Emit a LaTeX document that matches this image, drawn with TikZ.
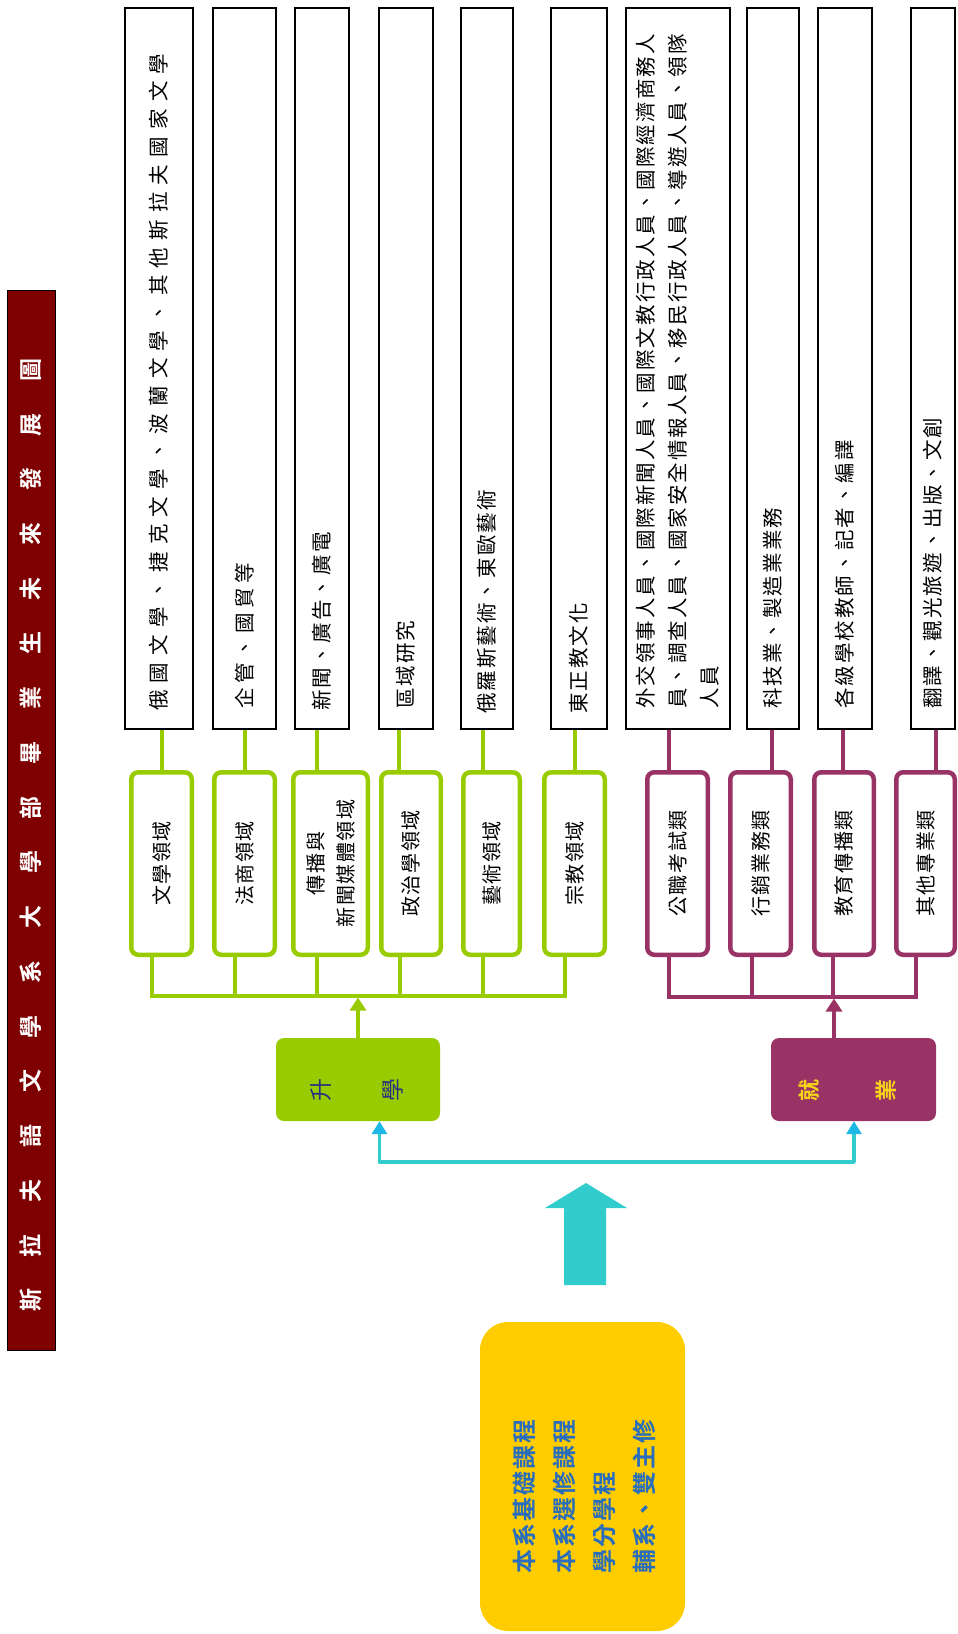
\documentclass[tikz,border=0pt]{standalone}
\usepackage{fontspec}
\usetikzlibrary{arrows.meta}
\newfontfamily\cjk{Noto Sans CJK TC}
\newfontfamily\cjkb{Noto Sans CJK TC Bold}
\definecolor{grn}{HTML}{99CC00}
\definecolor{mag}{HTML}{993366}
\definecolor{maroonbar}{HTML}{7F0000}
\definecolor{ylw}{HTML}{FFCC00}
\definecolor{tq}{HTML}{33CCCC}
\definecolor{sky}{HTML}{1EB8E6}
\definecolor{navytxt}{HTML}{2B2F7F}
\definecolor{bluetxt}{HTML}{2A6EBB}
\definecolor{jyy}{HTML}{F7D417}
\tikzset{
  wbox/.style={draw=black, line width=2pt, fill=white, inner sep=0pt, minimum height=721pt},
  gbox/.style={draw=grn, line width=4.5pt, rounded corners=7pt, fill=white, inner sep=0pt, minimum height=182.5pt},
  mbox/.style={gbox, draw=mag},
  wtext/.style={rotate=90, anchor=west, inner sep=0pt, align=left, font=\cjk\fontsize{20.5}{32}\selectfont\addfontfeature{LetterSpace=10}},
  ctext/.style={rotate=90, inner sep=0pt, align=center, font=\cjk\fontsize{20}{30}\selectfont\addfontfeature{LetterSpace=8}},
  gline/.style={draw=grn, line width=3.5pt, line join=miter},
  mline/.style={draw=mag, line width=3.5pt, line join=miter},
  cline/.style={draw=tq, line width=3.5pt, line join=round},
  gtip/.style={-{Triangle[width=16pt, length=13pt]}},
  ctip/.style={{Triangle[width=15pt, length=13pt, color=sky]}-{Triangle[width=15pt, length=13pt, color=sky]}}
}
\begin{document}
\begin{tikzpicture}[x=1pt,y=-1pt]
\useasboundingbox (0,0) rectangle (958,1634);
% title bar
\node[draw=black, line width=1pt, fill=maroonbar, minimum width=48pt, minimum height=1060pt, inner sep=0pt] (title) at (31,820) {};
\node[rotate=90, anchor=west, inner sep=0pt, text=white, font=\cjkb\fontsize{23}{23}\selectfont\addfontfeature{LetterSpace=138}] (titletext) at (31,1312) {斯拉夫語文學系大學部畢業生未來發展圖};

% white boxes
\node[wbox, minimum width=68pt] (w1) at (159,368.5) {};
\node[wbox, minimum width=63pt] (w2) at (244.5,368.5) {};
\node[wbox, minimum width=54pt] (w3) at (322,368.5) {};
\node[wbox, minimum width=54pt] (w4) at (406,368.5) {};
\node[wbox, minimum width=52pt] (w5) at (487,368.5) {};
\node[wbox, minimum width=56pt] (w6) at (579,368.5) {};
\node[wbox, minimum width=104pt] (w7) at (678,368.5) {};
\node[wbox, minimum width=52pt] (w8) at (773,368.5) {};
\node[wbox, minimum width=54pt] (w9) at (845,368.5) {};
\node[wbox, minimum width=44pt] (w10) at (933,368.5) {};

\node[wtext, font=\cjk\fontsize{20.5}{32}\selectfont\addfontfeature{LetterSpace=35}] (t1) at ([yshift=19pt]w1.south) {俄國文學、捷克文學、波蘭文學、其他斯拉夫國家文學};
\node[wtext, font=\cjk\fontsize{20.5}{32}\selectfont\addfontfeature{LetterSpace=22}] (t2) at ([yshift=21pt]w2.south) {企管、國貿等};
\node[wtext] (t3) at ([yshift=19pt]w3.south) {新聞、廣告、廣電};
\node[wtext] (t4) at ([yshift=21pt]w4.south) {區域研究};
\node[wtext] (t5) at ([yshift=16pt]w5.south) {俄羅斯藝術、東歐藝術};
\node[wtext] (t6) at ([yshift=16pt]w6.south) {東正教文化};
\node[wtext] (t7) at ([yshift=21pt]w7.south) {外交領事人員、國際新聞人員、國際文教行政人員、國際經濟商務人\\員、調查人員、國家安全情報人員、移民行政人員、導遊人員、領隊\\人員};
\node[wtext] (t8) at ([yshift=21pt]w8.south) {科技業、製造業業務};
\node[wtext] (t9) at ([yshift=21pt]w9.south) {各級學校教師、記者、編譯};
\node[wtext] (t10) at ([yshift=21pt]w10.south) {翻譯、觀光旅遊、出版、文創};

% green boxes
\node[gbox, minimum width=60.5pt] (g1) at (161.5,863.5) {};
\node[gbox, minimum width=60.5pt] (g2) at (244.5,863.5) {};
\node[gbox, minimum width=74.5pt] (g3) at (330.5,863.5) {};
\node[gbox, minimum width=59.5pt] (g4) at (411,863.5) {};
\node[gbox, minimum width=56.5pt] (g5) at (491.5,863.5) {};
\node[gbox, minimum width=60.5pt] (g6) at (574.5,863.5) {};
\node[ctext] (gt1) at (g1) {文學領域};
\node[ctext] (gt2) at (g2) {法商領域};
\node[ctext] (gt3) at (g3) {傳播與\\新聞媒體領域};
\node[ctext] (gt4) at (g4) {政治學領域};
\node[ctext] (gt5) at (g5) {藝術領域};
\node[ctext] (gt6) at (g6) {宗教領域};

% magenta boxes
\node[mbox, minimum width=60.5pt] (m1) at (677.5,863.5) {};
\node[mbox, minimum width=60.5pt] (m2) at (760.5,863.5) {};
\node[mbox, minimum width=59.5pt] (m3) at (844,863.5) {};
\node[mbox, minimum width=58.5pt] (m4) at (925.5,863.5) {};
\node[ctext] (mt1) at (m1) {公職考試類};
\node[ctext] (mt2) at (m2) {行銷業務類};
\node[ctext] (mt3) at (m3) {教育傳播類};
\node[ctext] (mt4) at (m4) {其他專業類};

% top connectors
\draw[gline] ([xshift=3pt]w1.south) -- ([xshift=0.5pt]g1.north);
\draw[gline] ([xshift=0.5pt]w2.south) -- ([xshift=0.5pt]g2.north);
\draw[gline] ([xshift=-5pt]w3.south) -- ([xshift=-13.5pt]g3.north);
\draw[gline] ([xshift=-7pt]w4.south) -- ([xshift=-12pt]g4.north);
\draw[gline] ([xshift=-4pt]w5.south) -- ([xshift=-8.5pt]g5.north);
\draw[gline] ([xshift=-4pt]w6.south) -- ([xshift=0.5pt]g6.north);
\draw[mline] ([xshift=-9pt]w7.south) -- ([xshift=-8.5pt]m1.north);
\draw[mline] ([xshift=-1pt]w8.south) -- ([xshift=11.5pt]m2.north);
\draw[mline] ([xshift=-2pt]w9.south) -- ([xshift=-1pt]m3.north);
\draw[mline] ([xshift=3pt]w10.south) -- ([xshift=10.5pt]m4.north);

% bottom buses
\coordinate (gbus) at (358,996);
\coordinate (s1) at ([xshift=-9.5pt]g1.south);
\coordinate (s2) at ([xshift=-9.5pt]g2.south);
\coordinate (s3) at ([xshift=-13.5pt]g3.south);
\coordinate (s4) at ([xshift=-11pt]g4.south);
\coordinate (s5) at ([xshift=-8.5pt]g5.south);
\coordinate (s6) at ([xshift=-9.5pt]g6.south);
\draw[gline] (s1) |- (gbus) -| (s6);
\draw[gline] (s2) -- (s2 |- gbus);
\draw[gline] (s3) -- (s3 |- gbus);
\draw[gline] (s4) -- (s4 |- gbus);
\draw[gline] (s5) -- (s5 |- gbus);

\coordinate (mbus) at (834,997);
\coordinate (r1) at ([xshift=-8.5pt]m1.south);
\coordinate (r2) at ([xshift=-8.5pt]m2.south);
\coordinate (r3) at ([xshift=-11pt]m3.south);
\coordinate (r4) at ([xshift=-9.5pt]m4.south);
\draw[mline] (r1) |- (mbus) -| (r4);
\draw[mline] (r2) -- (r2 |- mbus);
\draw[mline] (r3) -- (r3 |- mbus);

% 升學 / 就業
\node[fill=grn, rounded corners=8pt, minimum width=164pt, minimum height=83pt, inner sep=0pt] (sx) at (358,1079.5) {};
\node[rotate=90, align=center, inner sep=0pt, text=navytxt, font=\cjk\fontsize{23}{72}\selectfont] (sxt) at (357,1090) {升\\學};
\node[fill=mag, rounded corners=8pt, minimum width=165pt, minimum height=83pt, inner sep=0pt] (jy) at (853.5,1079.5) {};
\node[rotate=90, align=center, inner sep=0pt, text=jyy, font=\cjkb\fontsize{22}{77}\selectfont] (jyt) at (848,1090) {就\\業};

\draw[gline, gtip, shorten >=1.5pt] (sx.north) -- (gbus);
\coordinate (mtop) at ([xshift=-19.5pt]jy.north);
\draw[mline, gtip, shorten >=1.5pt] (mtop) -- (mtop |- mbus);

% cyan connector
\coordinate (cmid) at (600,1162);
\draw[cline, ctip] ([xshift=21.5pt]sx.south) |- (cmid) -| ([xshift=0.5pt]jy.south);

% big arrow
\fill[tq] (564,1285) -- (564,1208) -- (545,1208) -- (586,1183) -- (627,1208) -- (606,1208) -- (606,1285) -- cycle;

% yellow box
\node[fill=ylw, rounded corners=28pt, minimum width=205pt, minimum height=309pt, inner sep=0pt] (yb) at (582.5,1476.5) {};
\node[rotate=90, anchor=west, align=left, inner sep=0pt, text=bluetxt, font=\cjkb\fontsize{24}{40}\selectfont\addfontfeature{LetterSpace=9}] (ybt) at (584,1574) {本系基礎課程\\本系選修課程\\學分學程\\輔系、雙主修};
\end{tikzpicture}
\end{document}
